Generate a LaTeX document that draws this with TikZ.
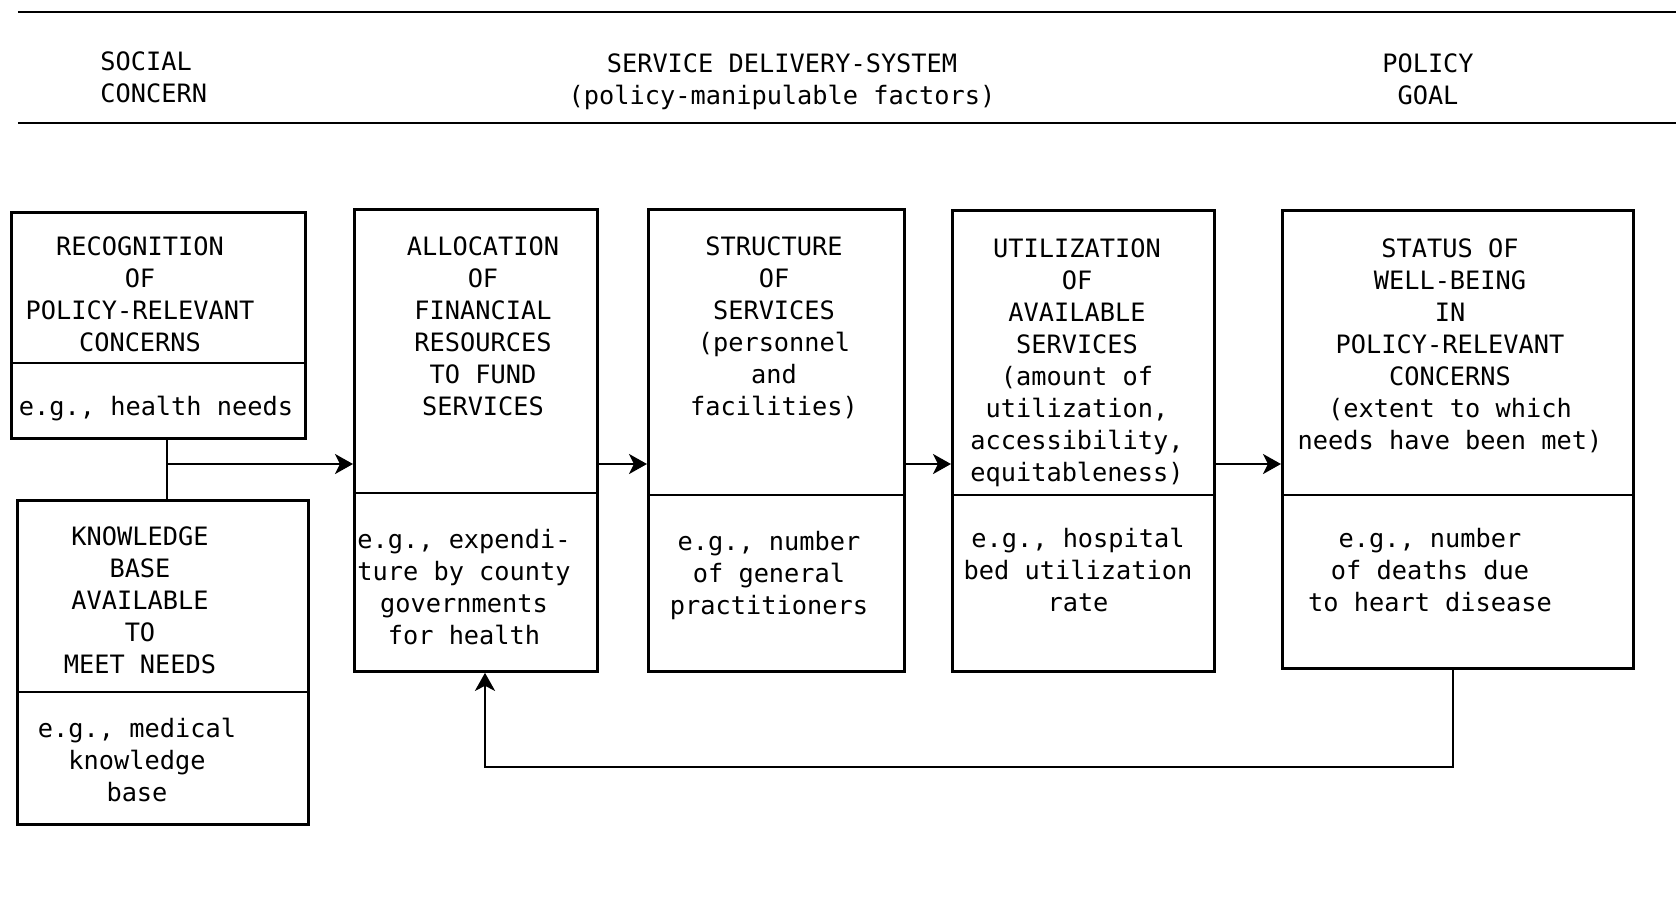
\documentclass[tikz,border=0pt]{standalone}
\usepackage{fontspec}
\setmainfont{DejaVu Sans Mono}
\usepackage{tikz}
\usetikzlibrary{arrows.meta}

\begin{document}
\begin{tikzpicture}[
  line width=0.8pt,
  box/.style={draw, anchor=north west, inner sep=0pt},
  txt/.style={anchor=north, align=center, inner sep=0pt, font={\fontsize{7.2}{9.1}\selectfont}},
  flow/.style={-{Stealth[length=0.18cm,width=0.2cm,inset=0.05cm]}}
]
  \useasboundingbox (0,0) rectangle (16.76,-9.00);

  % Header band
  \draw (0.18,-0.12) -- (16.76,-0.12);
  \draw (0.18,-1.23) -- (16.76,-1.23);
  \node[txt, align=left, anchor=north west] (hsoc) at (0.99,-0.50) {SOCIAL\\CONCERN};
  \node[txt] (hsys) at (7.82,-0.52) {SERVICE DELIVERY-SYSTEM\\(policy-manipulable factors)};
  \node[txt] (hgoal) at (14.28,-0.52) {POLICY\\GOAL};

  % Boxes
  \node[box, minimum width=2.94cm, minimum height=2.26cm] (recog)  at (0.10,-2.11) {};
  \node[box, minimum width=2.91cm, minimum height=3.24cm] (know)   at (0.16,-4.99) {};
  \node[box, minimum width=2.43cm, minimum height=4.62cm] (alloc)  at (3.53,-2.08) {};
  \node[box, minimum width=2.56cm, minimum height=4.62cm] (struct) at (6.47,-2.08) {};
  \node[box, minimum width=2.62cm, minimum height=4.61cm] (util)   at (9.51,-2.09) {};
  \node[box, minimum width=3.51cm, minimum height=4.58cm] (status) at (12.81,-2.09) {};

  % Dividers between heading and example
  \foreach \b/\y in {recog/3.63, know/6.92, alloc/4.93, struct/4.95, util/4.95, status/4.95}
    \draw (\b.west |- 0,-\y) -- (\b.east |- 0,-\y);

  % Box texts
  \node[txt] (recogT) at (1.40,-2.35) {RECOGNITION\\OF\\POLICY-RELEVANT\\CONCERNS};
  \node[txt] (recogE) at (1.56,-3.95) {e.g., health needs};
  \node[txt] (knowT) at (1.40,-5.25) {KNOWLEDGE\\BASE\\AVAILABLE\\TO\\MEET NEEDS};
  \node[txt] (knowE) at (1.37,-7.17) {e.g., medical\\knowledge\\base};
  \node[txt] (allocT) at (4.83,-2.35) {ALLOCATION\\OF\\FINANCIAL\\RESOURCES\\TO FUND\\SERVICES};
  \node[txt] (allocE) at (4.64,-5.28) {e.g., expendi-\\ture by county\\governments\\for health};
  \node[txt] (structT) at (7.74,-2.35) {STRUCTURE\\OF\\SERVICES\\(personnel\\and\\facilities)};
  \node[txt] (structE) at (7.69,-5.30) {e.g., number\\of general\\practitioners};
  \node[txt] (utilT) at (10.77,-2.37) {UTILIZATION\\OF\\AVAILABLE\\SERVICES\\(amount of\\utilization,\\accessibility,\\equitableness)};
  \node[txt] (utilE) at (10.78,-5.27) {e.g., hospital\\bed utilization\\rate};
  \node[txt] (statusT) at (14.50,-2.37) {STATUS OF\\WELL-BEING\\IN\\POLICY-RELEVANT\\CONCERNS\\(extent to which\\needs have been met)};
  \node[txt] (statusE) at (14.30,-5.27) {e.g., number\\of deaths due\\to heart disease};

  % Flow
  \coordinate (join) at (1.67,-4.64);
  \draw (recog.south -| join) -- (know.north -| join);
  \draw[flow] (join) -- (join -| alloc.west);
  \draw[flow] (alloc.east |- join) -- (struct.west |- join);
  \draw[flow] (struct.east |- join) -- (util.west |- join);
  \draw[flow] (util.east |- join) -- (status.west |- join);

  % Feedback
  \coordinate (loop) at (14.53,-7.67);
  \coordinate (back) at (4.85,-7.67);
  \draw[flow] (status.south -| loop) -- (loop) -- (back) -- (alloc.south -| back);
\end{tikzpicture}
\end{document}
